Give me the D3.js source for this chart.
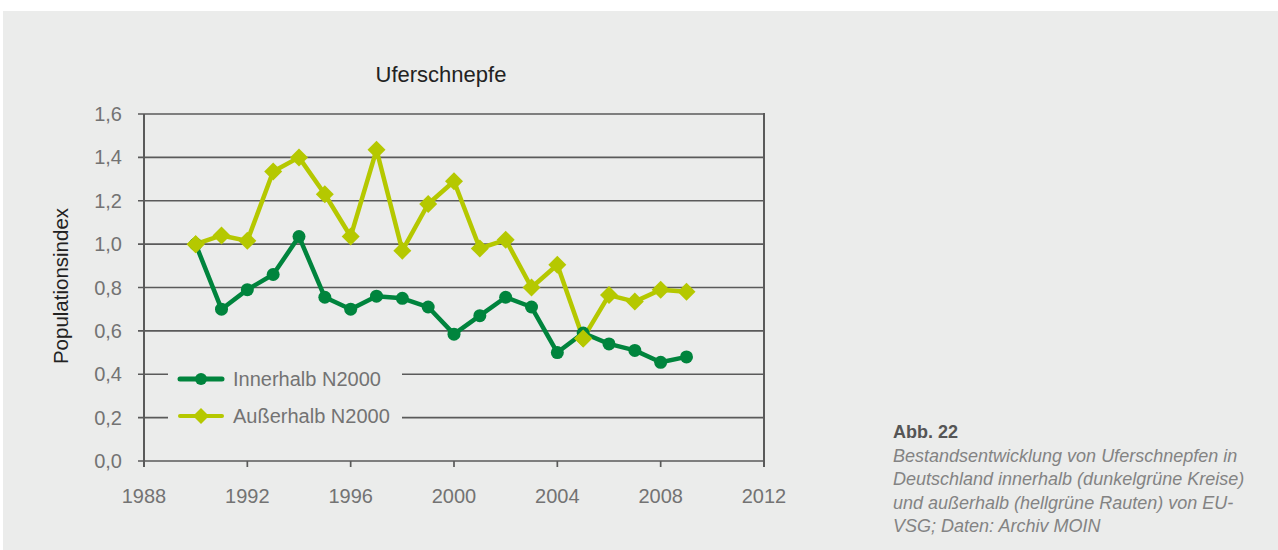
<!DOCTYPE html>
<html><head><meta charset="utf-8">
<script src="https://cdn.jsdelivr.net/npm/d3@7"></script>
<style>
html,body{margin:0;padding:0;background:#fff;}
svg{display:block;}
</style></head>
<body>
<svg id="c" width="1278" height="550"></svg>
<script>
const years = [1990,1991,1992,1993,1994,1995,1996,1997,1998,1999,2000,2001,2002,2003,2004,2005,2006,2007,2008,2009];
const innerhalb = [1.0,0.70,0.79,0.86,1.035,0.755,0.70,0.76,0.75,0.71,0.585,0.67,0.755,0.71,0.50,0.59,0.54,0.51,0.455,0.48];
const ausserhalb = [1.0,1.04,1.015,1.335,1.40,1.23,1.035,1.435,0.97,1.185,1.29,0.98,1.02,0.80,0.905,0.565,0.765,0.735,0.79,0.78];
const xTicks = [1988,1992,1996,2000,2004,2008,2012];
const yTicks = [0,0.2,0.4,0.6,0.8,1.0,1.2,1.4,1.6];
const seriesNames = ["Innerhalb N2000","Außerhalb N2000"];
const title = "Uferschnepfe";
const yLabel = "Populationsindex";
const captionHead = "Abb. 22";
const captionLines = ["Bestandsentwicklung von Uferschnepfen in","Deutschland innerhalb (dunkelgrüne Kreise)","und außerhalb (hellgrüne Rauten) von EU-","VSG; Daten: Archiv MOIN"];

const dark = "#00843d", light = "#b5c800", grid = "#5a5a5a", txt = "#737373";
const font = "'Liberation Sans', Arial, sans-serif";
const svg = d3.select("#c");
svg.append("rect").attr("x",3).attr("y",11).attr("width",1275).attr("height",539).attr("fill","#ebeceb");

const x = d3.scaleLinear().domain([1988,2012]).range([144,764]);
const y = d3.scaleLinear().domain([0,1.6]).range([461,114]);

const g = svg.append("g");
g.selectAll("line.grid").data(yTicks).join("line")
  .attr("x1",138).attr("x2",764).attr("y1",d=>y(d)).attr("y2",d=>y(d))
  .attr("stroke",grid).attr("stroke-width",1.7);
g.append("line").attr("x1",x(1988)).attr("x2",x(1988)).attr("y1",y(1.6)).attr("y2",467).attr("stroke",grid).attr("stroke-width",2);
g.append("line").attr("x1",x(2012)).attr("x2",x(2012)).attr("y1",y(1.6)-1).attr("y2",467).attr("stroke",grid).attr("stroke-width",2);
g.selectAll("line.xt").data(xTicks).join("line")
  .attr("x1",d=>x(d)).attr("x2",d=>x(d)).attr("y1",461).attr("y2",467)
  .attr("stroke",grid).attr("stroke-width",1.7);

svg.append("g").selectAll("text").data(yTicks).join("text")
  .attr("x",122).attr("y",d=>y(d)+7).attr("text-anchor","end")
  .attr("font-family",font).attr("font-size",20).attr("fill",txt)
  .text(d=>d3.format(".1f")(d).replace(".",","));
svg.append("g").selectAll("text").data(xTicks).join("text")
  .attr("x",d=>x(d)).attr("y",503).attr("text-anchor","middle")
  .attr("font-family",font).attr("font-size",20).attr("fill",txt)
  .text(d=>d);

svg.append("text").attr("x",441).attr("y",82).attr("text-anchor","middle")
  .attr("font-family",font).attr("font-size",22).attr("fill","#222").text(title);
svg.append("text").attr("transform","translate(68,286) rotate(-90)").attr("text-anchor","middle")
  .attr("font-family",font).attr("font-size",20.5).attr("fill","#222").text(yLabel);

const line = d3.line().x((d,i)=>x(years[i])).y(d=>y(d));
svg.append("path").datum(ausserhalb).attr("d",line).attr("fill","none").attr("stroke",light).attr("stroke-width",4.5).attr("stroke-linejoin","round");
svg.append("path").datum(innerhalb).attr("d",line).attr("fill","none").attr("stroke",dark).attr("stroke-width",4.5).attr("stroke-linejoin","round");
function diamondPath(cx,cy,r){return `M${cx},${cy-r}L${cx+r},${cy}L${cx},${cy+r}L${cx-r},${cy}Z`;}
svg.append("g").selectAll("path").data(ausserhalb).join("path")
  .attr("d",(d,i)=>diamondPath(x(years[i]),y(d),9)).attr("fill",light);
svg.append("g").selectAll("circle").data(innerhalb).join("circle")
  .attr("cx",(d,i)=>x(years[i])).attr("cy",d=>y(d)).attr("r",6.5).attr("fill",dark);
svg.append("path").attr("d",diamondPath(x(years[0]),y(ausserhalb[0]),9)).attr("fill",light);
svg.append("path").attr("d",diamondPath(x(years[15]),y(ausserhalb[15]),9)).attr("fill",light);

const lg = svg.append("g");
lg.append("rect").attr("x",168).attr("y",362).attr("width",234).attr("height",68).attr("fill","#ebeceb");
const rows = [{name:seriesNames[0],c:dark,y:379,m:"c"},{name:seriesNames[1],c:light,y:416,m:"d"}];
rows.forEach(r=>{
  lg.append("line").attr("x1",180).attr("x2",222).attr("y1",r.y).attr("y2",r.y).attr("stroke",r.c).attr("stroke-width",r.m==="c"?5:4).attr("stroke-linecap","round");
  if(r.m==="c") lg.append("circle").attr("cx",201).attr("cy",r.y).attr("r",6).attr("fill",r.c);
  else lg.append("path").attr("d",diamondPath(201,r.y,8)).attr("fill",r.c);
  lg.append("text").attr("x",233).attr("y",r.y+7).attr("font-family",font).attr("font-size",20).attr("fill",txt).text(r.name);
});

svg.append("text").attr("x",893).attr("y",438).attr("font-family",font).attr("font-size",18).attr("font-weight","bold").attr("fill","#555").text(captionHead);
svg.append("g").selectAll("text").data(captionLines).join("text")
  .attr("x",893).attr("y",(d,i)=>462+i*23.4).attr("font-family",font).attr("font-size",18)
  .attr("font-style","italic").attr("fill","#838383").text(d=>d);
</script>
</body></html>
